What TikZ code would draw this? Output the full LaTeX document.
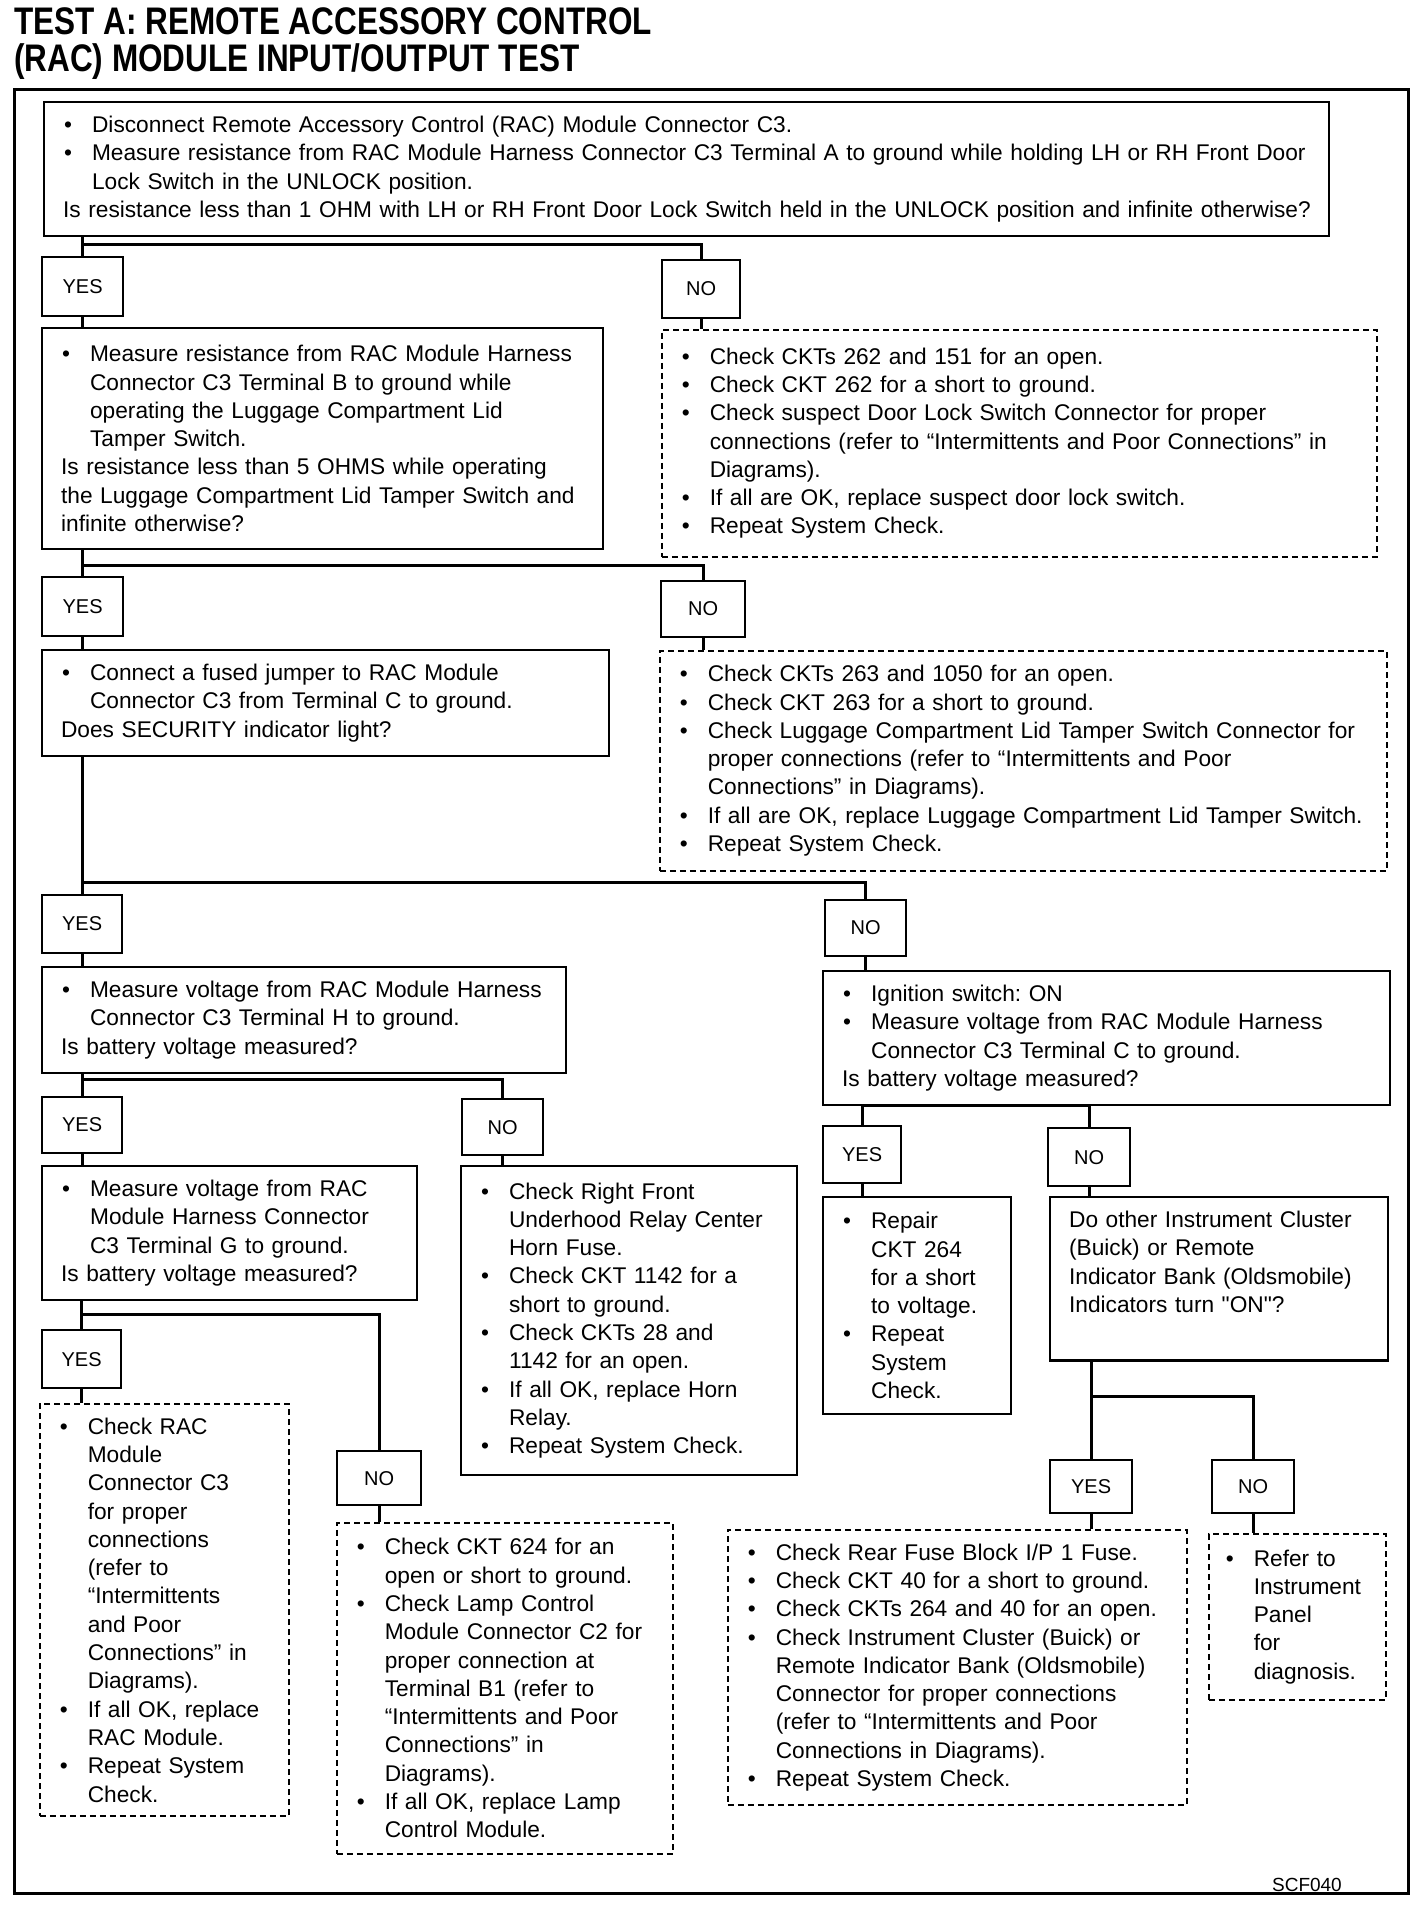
\documentclass[tikz,border=0pt]{standalone}
\usepackage{graphicx}
\usepackage{fontspec}
\setmainfont{Liberation Sans}
\frenchspacing
\newlength{\bw}
\setlength{\bw}{29pt}
\newcommand{\itm}[1]{\par\hbox{\makebox[\bw][l]{\hspace{1pt}\textbullet}#1}}
\newcommand{\cnt}[1]{\par\hbox{\hspace*{\bw}#1}}
\newcommand{\qst}[1]{\par\hbox{#1}}
\newcommand{\tailgap}[1]{\par\vspace{#1}}

\begin{document}
\begin{tikzpicture}[x=1pt,y=-1pt,
  every node/.style={font=\fontsize{22.7}{28.3}\selectfont},
  title/.style={anchor=base west,inner sep=0pt,font=\bfseries\fontsize{31.5}{37}\selectfont},
  stepbox/.style={draw,line width=2.2pt,anchor=north west,align=left,inner xsep=19pt,inner ysep=2pt,
    execute at end node={\tailgap{12pt}}},
  checkbox/.style={stepbox,line width=1.6pt,dash pattern=on 6pt off 4pt},
  answer/.style={draw,line width=2.2pt,anchor=north west,inner sep=0pt,font=\fontsize{20}{24}\selectfont},
  wh/.style 2 args={minimum width=#1pt,minimum height=#2pt},
  sz/.code 2 args={\pgfmathsetlengthmacro\boxtw{#1pt-2*\pgfkeysvalueof{/pgf/inner xsep}}%
    \edef\szkeys{\noexpand\pgfkeysalso{minimum width=#1pt,minimum height=#2pt,text width=\boxtw}}\szkeys},
  link/.style={line width=3pt}
]
\useasboundingbox (0,0) rectangle (1424,1914);
% frame and title
\draw[line width=3pt] (14,89) rectangle (1408,1893);
\node[title] (ttl1) at (14,34) {\scalebox{1}[1.22]{TEST A: REMOTE ACCESSORY CONTROL}};
\node[title] (ttl2) at (14,71) {\scalebox{1}[1.22]{(RAC) MODULE INPUT/OUTPUT TEST}};
\node[anchor=base east,inner sep=0pt,font=\fontsize{19}{22}\selectfont] (fig) at (1342,1891) {SCF040};

% door lock switch
\node[stepbox,sz={1285}{131}] (b1) at (43,101) {
  \itm{Disconnect Remote Accessory Control (RAC) Module Connector C3.}
  \itm{Measure resistance from RAC Module Harness Connector C3 Terminal A to ground while holding LH or RH Front Door}
  \cnt{Lock Switch in the UNLOCK position.}
  \qst{Is resistance less than 1 OHM with LH or RH Front Door Lock Switch held in the UNLOCK position and infinite otherwise?}};
\node[answer,wh={81}{59}] (yes1) at (41,256) {YES};
\node[answer,wh={78}{58}] (no1) at (661,259) {NO};

% tamper switch
\node[stepbox,sz={561}{221}] (b2) at (41,327) {
  \itm{Measure resistance from RAC Module Harness}
  \cnt{Connector C3 Terminal B to ground while}
  \cnt{operating the Luggage Compartment Lid}
  \cnt{Tamper Switch.}
  \qst{Is resistance less than 5 OHMS while operating}
  \qst{the Luggage Compartment Lid Tamper Switch and}
  \qst{infinite otherwise?}};
\node[checkbox,sz={715}{227}] (n1) at (661,329) {
  \itm{Check CKTs 262 and 151 for an open.}
  \itm{Check CKT 262 for a short to ground.}
  \itm{Check suspect Door Lock Switch Connector for proper}
  \cnt{connections (refer to “Intermittents and Poor Connections” in}
  \cnt{Diagrams).}
  \itm{If all are OK, replace suspect door lock switch.}
  \itm{Repeat System Check.}};
\node[answer,wh={81}{59}] (yes2) at (41,576) {YES};
\node[answer,wh={84}{56}] (no2) at (660,580) {NO};

% security indicator
\node[stepbox,sz={567}{100}] (b3) at (41,649) {
  \itm{Connect a fused jumper to RAC Module}
  \cnt{Connector C3 from Terminal C to ground.}
  \qst{Does SECURITY indicator light?}};
\node[checkbox,sz={727}{220}] (n2) at (659,650) {
  \itm{Check CKTs 263 and 1050 for an open.}
  \itm{Check CKT 263 for a short to ground.}
  \itm{Check Luggage Compartment Lid Tamper Switch Connector for}
  \cnt{proper connections (refer to “Intermittents and Poor}
  \cnt{Connections” in Diagrams).}
  \itm{If all are OK, replace Luggage Compartment Lid Tamper Switch.}
  \itm{Repeat System Check.}};
\node[answer,wh={80}{58}] (yes3) at (41,894) {YES};
\node[answer,wh={81}{56}] (no3) at (824,899) {NO};

% terminal H and terminal C
\node[stepbox,sz={524}{103}] (b4) at (41,966) {
  \itm{Measure voltage from RAC Module Harness}
  \cnt{Connector C3 Terminal H to ground.}
  \qst{Is battery voltage measured?}};
\node[stepbox,sz={567}{128}] (r1) at (822,970) {
  \itm{Ignition switch: ON}
  \itm{Measure voltage from RAC Module Harness}
  \cnt{Connector C3 Terminal C to ground.}
  \qst{Is battery voltage measured?}};
\node[answer,wh={80}{56}] (yes4) at (41,1096) {YES};
\node[answer,wh={81}{56}] (no4) at (461,1098) {NO};
\node[answer,wh={78}{57}] (yes5) at (822,1125) {YES};
\node[answer,wh={82}{58}] (no5) at (1047,1127) {NO};

% terminal G, horn fuse, CKT 264, indicators
\node[stepbox,sz={375}{125}] (b5) at (41,1165) {
  \itm{Measure voltage from RAC}
  \cnt{Module Harness Connector}
  \cnt{C3 Terminal G to ground.}
  \qst{Is battery voltage measured?}};
\node[stepbox,sz={336}{309}] (n3) at (460,1165) {
  \itm{Check Right Front}
  \cnt{Underhood Relay Center}
  \cnt{Horn Fuse.}
  \itm{Check CKT 1142 for a}
  \cnt{short to ground.}
  \itm{Check CKTs 28 and}
  \cnt{1142 for an open.}
  \itm{If all OK, replace Horn}
  \cnt{Relay.}
  \itm{Repeat System Check.}};
\node[stepbox,sz={188}{217}] (y5) at (822,1196) {
  \itm{Repair}
  \cnt{CKT 264}
  \cnt{for a short}
  \cnt{to voltage.}
  \itm{Repeat}
  \cnt{System}
  \cnt{Check.}};
\node[stepbox,sz={338}{146},execute at end node={\tailgap{34pt}}] (q) at (1049,1196) {
  \qst{Do other Instrument Cluster}
  \qst{(Buick) or Remote}
  \qst{Indicator Bank (Oldsmobile)}
  \qst{Indicators turn \textquotedbl ON\textquotedbl ?}};
\node[answer,wh={79}{58}] (yes7) at (41,1329) {YES};
\node[answer,wh={84}{54}] (no7) at (336,1450) {NO};
\node[answer,wh={82}{53}] (yes6) at (1049,1459) {YES};
\node[answer,wh={82}{53}] (no6) at (1211,1459) {NO};

% last checks
\node[checkbox,sz={249}{410}] (n4) at (39,1403) {
  \itm{Check RAC}
  \cnt{Module}
  \cnt{Connector C3}
  \cnt{for proper}
  \cnt{connections}
  \cnt{(refer to}
  \cnt{“Intermittents}
  \cnt{and Poor}
  \cnt{Connections” in}
  \cnt{Diagrams).}
  \itm{If all OK, replace}
  \cnt{RAC Module.}
  \itm{Repeat System}
  \cnt{Check.}};
\node[checkbox,sz={336}{331}] (n7) at (336,1522) {
  \itm{Check CKT 624 for an}
  \cnt{open or short to ground.}
  \itm{Check Lamp Control}
  \cnt{Module Connector C2 for}
  \cnt{proper connection at}
  \cnt{Terminal B1 (refer to}
  \cnt{“Intermittents and Poor}
  \cnt{Connections” in}
  \cnt{Diagrams).}
  \itm{If all OK, replace Lamp}
  \cnt{Control Module.}};
\node[checkbox,sz={459}{273}] (n5) at (727,1529) {
  \itm{Check Rear Fuse Block I/P 1 Fuse.}
  \itm{Check CKT 40 for a short to ground.}
  \itm{Check CKTs 264 and 40 for an open.}
  \itm{Check Instrument Cluster (Buick) or}
  \cnt{Remote Indicator Bank (Oldsmobile)}
  \cnt{Connector for proper connections}
  \cnt{(refer to “Intermittents and Poor}
  \cnt{Connections in Diagrams).}
  \itm{Repeat System Check.}};
\node[checkbox,inner xsep=16pt,sz={177}{166}] (n6) at (1208,1533) {
  \itm{Refer to}
  \cnt{Instrument}
  \cnt{Panel}
  \cnt{for}
  \cnt{diagnosis.}};

% YES/NO branches
\foreach \s/\y/\n/\j in {b1/yes1/no1/244,b2/yes2/no2/565,b3/yes3/no3/882,
    b4/yes4/no4/1079,r1/yes5/no5/1105,b5/yes7/no7/1314,q/yes6/no6/1396}
  {\draw[link] (\s.south -| \y.north) -- (\y.north);
   \draw[link] (\y.north |- 0,\j) -| (\n.north);}
\foreach \a/\b in {yes1/b2,no1/n1,yes2/b3,no2/n2,yes3/b4,no3/r1,yes4/b5,no4/n3,
    yes5/y5,no5/q,yes6/n5,no6/n6,yes7/n4,no7/n7}
  {\draw[link] (\a.south) -- (\a.south |- \b.north);}
\end{tikzpicture}
\end{document}
